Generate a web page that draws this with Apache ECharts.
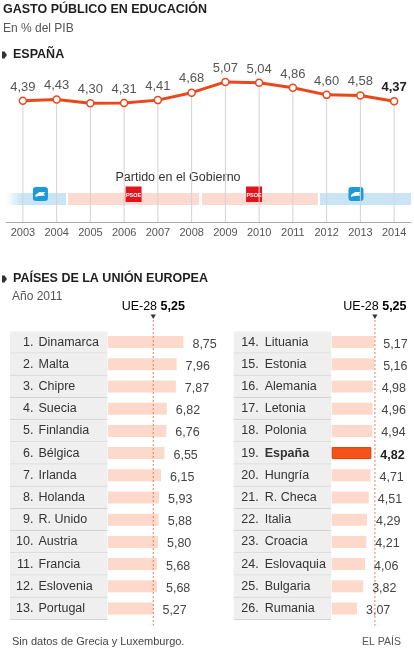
<!DOCTYPE html>
<html><head><meta charset="utf-8">
<script src="https://cdn.jsdelivr.net/npm/echarts@6/dist/echarts.min.js"></script>
<style>html,body{margin:0;padding:0;background:#fff}#c{width:414px;height:651px}</style>
</head><body><div id="c"></div>
<script>
// ---- data ----
const years = ['2003','2004','2005','2006','2007','2008','2009','2010','2011','2012','2013','2014'];
const spainValues = [4.39,4.43,4.30,4.31,4.41,4.68,5.07,5.04,4.86,4.60,4.58,4.37];
const govFrom   = [2002.5, 2004.34, 2008.31, 2011.80];
const govTo     = [2004.28, 2008.22, 2011.74, 2014.5];
const govParty  = ['PP','PSOE','PSOE','PP'];
const govLogoAt = [2003.52, 2006.28, 2009.85, 2012.87];
const leftRanks = [1,2,3,4,5,6,7,8,9,10,11,12,13];
const leftCountries = ['Dinamarca','Malta','Chipre','Suecia','Finlandia','Bélgica','Irlanda','Holanda','R. Unido','Austria','Francia','Eslovenia','Portugal'];
const leftValues = [8.75,7.96,7.87,6.82,6.76,6.55,6.15,5.93,5.88,5.80,5.68,5.68,5.27];
const rightRanks = [14,15,16,17,18,19,20,21,22,23,24,25,26];
const rightCountries = ['Lituania','Estonia','Alemania','Letonia','Polonia','España','Hungría','R. Checa','Italia','Croacia','Eslovaquia','Bulgaria','Rumania'];
const rightValues = [5.17,5.16,4.98,4.96,4.94,4.82,4.71,4.51,4.29,4.21,4.06,3.82,3.07];
const eu28 = 5.25;
const highlight = 'España';

const FONT = "'Liberation Sans', Arial, Helvetica, sans-serif";
const fmt = v => v.toFixed(2).replace('.', ',');
const ORANGE = '#e9481b';

const chart = echarts.init(document.getElementById('c'), null, {renderer:'canvas'});

function cellsRender(numRight, nameLeft) {
  return function(params, api) {
    const p = api.coord([0, api.value(1)]);
    const left = p[0] - 98, right = p[0] - 0.5, cy = p[1];
    const name = api.value(3);
    const bold = name === highlight;
    return {type:'group', children:[
      {type:'rect', shape:{x:left, y:cy-10.6, width:right-left, height:21}, style:{fill:'#efefef'}},
      {type:'rect', shape:{x:left, y:cy+10.4, width:right-left, height:1}, style:{fill:'#d3d3d3'}},
      {type:'text', style:{text:api.value(2)+'.', x:left+numRight, y:cy, align:'right', verticalAlign:'middle',
        fontSize:12.5, fontFamily:FONT, fill:'#333'}},
      {type:'text', style:{text:name, x:left+nameLeft, y:cy, align:'left', verticalAlign:'middle',
        fontSize:12.5, fontFamily:FONT, fontWeight:bold?'bold':'normal', fill:'#333'}}
    ]};
  };
}
function euRender(params, api) {
  const cs = params.coordSys;
  const x = api.coord([api.value(0), 0])[0];
  const top = cs.y, bottom = cs.y + cs.height;
  return {type:'group', children:[
    {type:'line', shape:{x1:x, y1:top-11, x2:x, y2:bottom+6}, style:{stroke:'#ec7a55', lineWidth:1, lineDash:[2,2]}},
    {type:'polygon', shape:{points:[[x-2.6, top-16.5],[x+2.6, top-16.5],[x, top-12]]}, style:{fill:'#333'}},
    {type:'text', style:{text:'{a|UE-28 }{b|' + fmt(api.value(0)) + '}', x:x, y:top-24, align:'center', verticalAlign:'middle',
      rich:{a:{fontSize:12.5, fontFamily:FONT, color:'#333'}, b:{fontSize:12.5, fontFamily:FONT, fontWeight:'bold', color:'#222'}}}}
  ]};
}
function barSeries(values, countries, xi, yi) {
  return {
    type:'bar', xAxisIndex:xi, yAxisIndex:yi, barWidth:12, silent:true, z:3,
    data: values.map((v,i)=> countries[i]===highlight
      ? {value:v, itemStyle:{color:'#f6521a', borderColor:'#d2400f', borderWidth:1},
         label:{fontWeight:'bold', color:'#222'}}
      : {value:v}),
    itemStyle:{color:'#fcd9cb'},
    label:{show:true, position:'right', distance:9, offset:[0,2], fontSize:12.5, fontFamily:FONT, color:'#444',
      formatter:p=>fmt(p.value)}
  };
}

const option = {
  animation:false,
  textStyle:{fontFamily:FONT},
  grid:[
    {left:6, top:70, width:405, height:152},
    {left:108, top:331, width:86.2, height:288.6},
    {left:331.7, top:331, width:86.2, height:288.6}
  ],
  xAxis:[
    {type:'category', gridIndex:0, data:years, boundaryGap:true,
     axisLine:{lineStyle:{color:'#aaa', width:1}}, axisTick:{show:false},
     axisLabel:{fontSize:11, color:'#555', margin:5, fontFamily:FONT}},
    {type:'value', gridIndex:0, min:2002.5, max:2014.5, show:false},
    {type:'value', gridIndex:1, min:0, max:10, show:false},
    {type:'value', gridIndex:2, min:0, max:10, show:false}
  ],
  yAxis:[
    {type:'value', gridIndex:0, min:0, max:5.5, show:false, splitLine:{show:false}},
    {type:'category', gridIndex:1, data:leftCountries, inverse:true, show:false},
    {type:'category', gridIndex:2, data:rightCountries, inverse:true, show:false}
  ],
  series:[
    {type:'custom', xAxisIndex:1, yAxisIndex:0, z:1, silent:true,
     data: govFrom.map((f,i)=>[f, govTo[i], govLogoAt[i], govParty[i]==='PP'?0:1]),
     encode:{x:[0,1,2]},
     renderItem:function(params, api){
       const a = api.coord([api.value(0), 0]);
       const b = api.coord([api.value(1), 0]);
       const lg = api.coord([api.value(2), 0]);
       const base = a[1];
       const pp = api.value(3) === 0;
       let fill = pp ? '#c9e5f5' : '#fbdacf';
       if (params.dataIndex === 0) {
         fill = new echarts.graphic.LinearGradient(0,0,1,0,[{offset:0,color:'rgba(201,229,245,0)'},{offset:0.25,color:'#c9e5f5'},{offset:1,color:'#c9e5f5'}]);
       }
       const children = [{type:'rect', shape:{x:a[0], y:base-29, width:b[0]-a[0], height:12}, style:{fill:fill}}];
       const lx = lg[0];
       if (pp) {
         children.push({type:'rect', shape:{x:lx-7.5, y:base-35, width:15, height:14, r:3}, style:{fill:'#1b9ad8'}});
         children.push({type:'polygon', shape:{points:[[lx-5,base-27],[lx-1,base-30],[lx+5,base-30],[lx+3,base-28],[lx+5,base-26.5],[lx-2,base-26],[lx-5,base-25]]}, style:{fill:'#fff'}});
       } else {
         children.push({type:'rect', shape:{x:lx-8, y:base-35.5, width:16, height:15.5}, style:{fill:'#e1141c'}});
         children.push({type:'text', style:{text:'PSOE', x:lx, y:base-26.5, align:'center', verticalAlign:'middle', fontSize:5.5, fontWeight:'bold', fontFamily:FONT, fill:'#fff'}});
       }
       return {type:'group', children:children};
     }},
    {type:'bar', xAxisIndex:0, yAxisIndex:0, data:spainValues, barWidth:1, silent:true, z:2,
     itemStyle:{color:'#d2d2d2'}},
    {type:'line', xAxisIndex:0, yAxisIndex:0, z:4, silent:true,
     data: spainValues.map((v,i)=> i===spainValues.length-1 ? {value:v, label:{fontWeight:'bold', color:'#222'}} : v),
     lineStyle:{color:ORANGE, width:3}, symbol:'circle', symbolSize:7,
     itemStyle:{color:'#fff', borderColor:ORANGE, borderWidth:1.5},
     label:{show:true, position:'top', distance:3, fontSize:13, fontFamily:FONT, color:'#555', formatter:p=>fmt(p.value)}},
    {type:'custom', xAxisIndex:2, yAxisIndex:1, z:1, silent:true,
     data: leftCountries.map((c,i)=>[0, i, leftRanks[i], c]), encode:{x:0, y:1},
     renderItem: cellsRender(23.5, 28.5)},
    barSeries(leftValues, leftCountries, 2, 1),
    {type:'custom', xAxisIndex:2, yAxisIndex:1, z:5, silent:true, data:[[eu28, 0]], encode:{x:0, y:1}, renderItem:euRender},
    {type:'custom', xAxisIndex:3, yAxisIndex:2, z:1, silent:true,
     data: rightCountries.map((c,i)=>[0, i, rightRanks[i], c]), encode:{x:0, y:1},
     renderItem: cellsRender(25, 31)},
    barSeries(rightValues, rightCountries, 3, 2),
    {type:'custom', xAxisIndex:3, yAxisIndex:2, z:5, silent:true, data:[[eu28, 0]], encode:{x:0, y:1}, renderItem:euRender}
  ],
  graphic:[
    {type:'text', x:3, y:10, style:{text:'GASTO PÚBLICO EN EDUCACIÓN', verticalAlign:'middle', fontSize:12.5, fontWeight:'bold', fontFamily:FONT, fill:'#1e1e1e'}},
    {type:'text', x:3, y:29, style:{text:'En % del PIB', verticalAlign:'middle', fontSize:12, fontFamily:FONT, fill:'#555'}},
    {type:'polygon', shape:{points:[[2,51.5],[4.5,51.5],[7,55],[4.5,58.5],[2,58.5]]}, style:{fill:'#333'}},
    {type:'text', x:13, y:55, style:{text:'ESPAÑA', verticalAlign:'middle', fontSize:12.5, fontWeight:'bold', fontFamily:FONT, fill:'#1e1e1e'}},
    {type:'text', x:178, y:178, style:{text:'Partido en el Gobierno', align:'center', verticalAlign:'middle', fontSize:12.5, fontFamily:FONT, fill:'#333'}},
    {type:'polygon', shape:{points:[[2,275.5],[4.5,275.5],[7,279],[4.5,282.5],[2,282.5]]}, style:{fill:'#333'}},
    {type:'text', x:13, y:279, style:{text:'PAÍSES DE LA UNIÓN EUROPEA', verticalAlign:'middle', fontSize:12.5, fontWeight:'bold', fontFamily:FONT, fill:'#1e1e1e'}},
    {type:'text', x:12, y:297, style:{text:'Año 2011', verticalAlign:'middle', fontSize:12, fontFamily:FONT, fill:'#555'}},
    {type:'text', x:12, y:642, style:{text:'Sin datos de Grecia y Luxemburgo.', verticalAlign:'middle', fontSize:11, fontFamily:FONT, fill:'#444'}},
    {type:'text', x:362, y:642, style:{text:'EL PAÍS', verticalAlign:'middle', fontSize:10.5, fontFamily:FONT, fill:'#555'}}
  ]
};
chart.setOption(option);
</script>
</body></html>
